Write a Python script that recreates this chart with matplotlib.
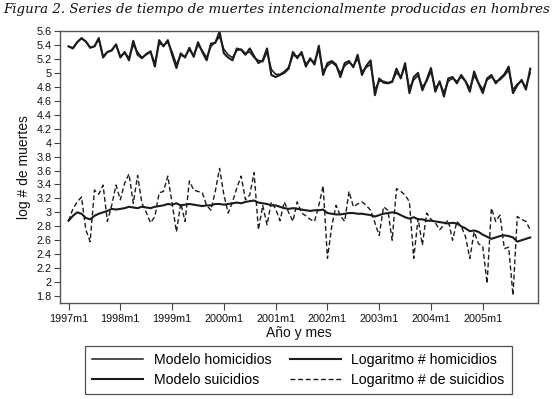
import matplotlib
matplotlib.use("Agg")
import matplotlib.pyplot as plt
from matplotlib.lines import Line2D

# ---- data (monthly, 1997m1 .. 2005m12) ----
months = list(range(108))
tick_pos = [0, 12, 24, 36, 48, 60, 72, 84, 96]
tick_labels = ["1997m1", "1998m1", "1999m1", "2000m1", "2001m1",
               "2002m1", "2003m1", "2004m1", "2005m1"]
y_ticks = [1.8, 2.0, 2.2, 2.4, 2.6, 2.8, 3.0, 3.2, 3.4, 3.6, 3.8, 4.0,
           4.2, 4.4, 4.6, 4.8, 5.0, 5.2, 5.4, 5.6]

hom_obs = [5.38, 5.35, 5.44, 5.50, 5.45, 5.36, 5.38, 5.50, 5.22, 5.30,
           5.32, 5.41, 5.22, 5.30, 5.18, 5.46, 5.26, 5.21, 5.27, 5.31,
           5.09, 5.47, 5.38, 5.47, 5.26, 5.07, 5.28, 5.22, 5.36, 5.23,
           5.44, 5.30, 5.18, 5.42, 5.43, 5.59, 5.28, 5.22, 5.18, 5.35,
           5.33, 5.26, 5.35, 5.24, 5.14, 5.18, 5.35, 4.97, 4.94, 4.97,
           5.00, 5.06, 5.30, 5.21, 5.30, 5.09, 5.21, 5.12, 5.39, 4.97,
           5.14, 5.17, 5.12, 4.94, 5.14, 5.17, 5.08, 5.26, 4.97, 5.10,
           5.18, 4.68, 4.92, 4.86, 4.85, 4.87, 5.06, 4.92, 5.14, 4.71,
           4.94, 5.00, 4.75, 4.90, 5.07, 4.73, 4.88, 4.66, 4.92, 4.94,
           4.85, 4.97, 4.88, 4.73, 5.02, 4.85, 4.71, 4.92, 4.97, 4.85,
           4.92, 4.98, 5.09, 4.71, 4.82, 4.90, 4.76, 5.06]

hom_model = [5.38, 5.36, 5.44, 5.49, 5.45, 5.37, 5.38, 5.48, 5.24, 5.30,
             5.33, 5.40, 5.24, 5.28, 5.22, 5.40, 5.30, 5.22, 5.26, 5.30,
             5.14, 5.42, 5.40, 5.44, 5.30, 5.12, 5.25, 5.24, 5.33, 5.25,
             5.40, 5.32, 5.22, 5.38, 5.44, 5.52, 5.34, 5.26, 5.22, 5.32,
             5.34, 5.28, 5.30, 5.22, 5.18, 5.16, 5.30, 5.05, 4.98, 4.98,
             5.02, 5.08, 5.25, 5.24, 5.27, 5.13, 5.18, 5.16, 5.33, 5.02,
             5.10, 5.15, 5.10, 5.00, 5.10, 5.15, 5.10, 5.20, 5.02, 5.08,
             5.12, 4.76, 4.88, 4.88, 4.86, 4.88, 5.00, 4.95, 5.08, 4.78,
             4.90, 4.96, 4.80, 4.88, 5.02, 4.78, 4.86, 4.72, 4.88, 4.92,
             4.88, 4.94, 4.88, 4.78, 4.96, 4.86, 4.76, 4.90, 4.94, 4.88,
             4.90, 4.96, 5.04, 4.76, 4.84, 4.88, 4.80, 5.00]

sui_obs = [2.88, 3.05, 3.15, 3.22, 2.75, 2.58, 3.32, 3.26, 3.39, 2.87,
           3.10, 3.39, 3.18, 3.42, 3.55, 3.13, 3.53, 3.13, 3.00, 2.85,
           2.94, 3.28, 3.30, 3.52, 3.13, 2.72, 3.13, 2.87, 3.45, 3.32,
           3.30, 3.28, 3.10, 3.03, 3.30, 3.63, 3.25, 2.99, 3.15, 3.35,
           3.52, 3.18, 3.25, 3.57, 2.75, 3.10, 2.82, 3.15, 3.05, 2.88,
           3.15, 3.00, 2.87, 3.15, 2.99, 2.95, 2.90, 2.87, 3.10, 3.38,
           2.34, 2.80, 3.10, 2.95, 2.87, 3.30, 3.08, 3.12, 3.15, 3.10,
           3.03, 2.85, 2.67, 3.08, 3.03, 2.60, 3.34, 3.30, 3.25, 3.15,
           2.34, 2.91, 2.53, 2.99, 2.90, 2.85, 2.75, 2.82, 2.89, 2.60,
           2.87, 2.80, 2.65, 2.34, 2.72, 2.55, 2.51, 1.98, 3.06, 2.87,
           2.96, 2.48, 2.50, 1.81, 2.94, 2.90, 2.87, 2.75]

sui_model = [2.88, 2.95, 3.00, 2.98, 2.92, 2.90, 2.95, 2.98, 3.00, 3.02,
             3.05, 3.04, 3.05, 3.06, 3.08, 3.07, 3.06, 3.08, 3.07, 3.06,
             3.08, 3.09, 3.10, 3.12, 3.11, 3.13, 3.10, 3.11, 3.12, 3.11,
             3.10, 3.09, 3.10, 3.10, 3.12, 3.12, 3.11, 3.12, 3.13, 3.14,
             3.13, 3.15, 3.16, 3.17, 3.14, 3.13, 3.12, 3.10, 3.10, 3.08,
             3.06, 3.05, 3.06, 3.05, 3.04, 3.03, 3.02, 3.03, 3.03, 3.04,
             2.99, 2.98, 2.97, 2.97, 2.98, 2.99, 2.99, 2.98, 2.98, 2.97,
             2.96, 2.94, 2.96, 2.98, 2.99, 3.00, 2.99, 2.96, 2.93, 2.91,
             2.93, 2.90, 2.90, 2.88, 2.88, 2.87, 2.86, 2.85, 2.84, 2.85,
             2.84, 2.80, 2.77, 2.73, 2.74, 2.72, 2.68, 2.65, 2.62, 2.64,
             2.66, 2.67, 2.66, 2.64, 2.58, 2.60, 2.62, 2.64]

assert all(len(s) == 108 for s in (hom_obs, hom_model, sui_obs, sui_model))

title = "Figura 2. Series de tiempo de muertes intencionalmente producidas en hombres"
legend_labels = ["Modelo homicidios", "Modelo suicidios",
                 "Logaritmo # homicidios", "Logaritmo # de suicidios"]

# ---- figure ----
W, H = 553, 399
fig = plt.figure(figsize=(W / 100, H / 100), dpi=100)
plt.rcParams['font.family'] = ['Liberation Sans', 'DejaVu Sans']

ax = fig.add_axes([59.5 / W, 1 - 303 / H, (538 - 59.5) / W, (303 - 30.7) / H])

ink = "#1c1c1c"
ax.plot(months, hom_model, color=ink, lw=1.1)
ax.plot(months, hom_obs, color=ink, lw=1.5)
ax.plot(months, sui_model, color=ink, lw=1.5)
ax.plot(months, sui_obs, color=ink, lw=1.0, ls=(0, (3.5, 2)))

ax.set_xlim(-2.1, 108.8)
ax.set_ylim(1.70, 5.605)
ax.set_yticks(y_ticks)
ax.set_yticklabels(["%g" % v for v in y_ticks])
ax.set_xticks(tick_pos)
ax.set_xticklabels(tick_labels)
ax.tick_params(axis='y', direction='out', length=4.5, width=0.8, pad=1.2,
               labelsize=7.8, color="#444444", labelcolor="#111111")
ax.tick_params(axis='x', direction='out', length=5, width=0.8, pad=3.2,
               labelsize=7.8, color="#444444", labelcolor="#111111")
for s in ax.spines.values():
    s.set_color("#555555")
    s.set_linewidth(1.0)

ax.set_ylabel("log # de muertes", fontsize=10, labelpad=4, color="#111111")
ax.set_xlabel("Año y mes", fontsize=10, labelpad=1.5, color="#111111")

# title fitted to width
t = fig.text(3 / W, 1 - 10 / H, title, family=["DejaVu Serif"], style='italic',
             fontsize=9, va='center', ha='left', color="#111111")
fig.canvas.draw()
r = fig.canvas.get_renderer()
bb = t.get_window_extent(r)
t.set_fontsize(9 * (548 / bb.width))

handles = [Line2D([], [], color=ink, lw=1.1),
           Line2D([], [], color=ink, lw=1.5),
           Line2D([], [], color=ink, lw=1.5),
           Line2D([], [], color=ink, lw=1.0, ls=(0, (3.5, 2)))]
leg = fig.legend(handles, legend_labels, ncol=2, loc='upper left',
                 bbox_to_anchor=(85 / W, 1 - 346 / H), fontsize=10.2,
                 frameon=True, fancybox=False, handlelength=3.6,
                 handletextpad=0.75, columnspacing=1.3, labelspacing=0.42,
                 borderpad=0.5, borderaxespad=0)
leg.get_frame().set_edgecolor("#222222")
leg.get_frame().set_linewidth(0.9)

fig.savefig("out.png", dpi=100)
